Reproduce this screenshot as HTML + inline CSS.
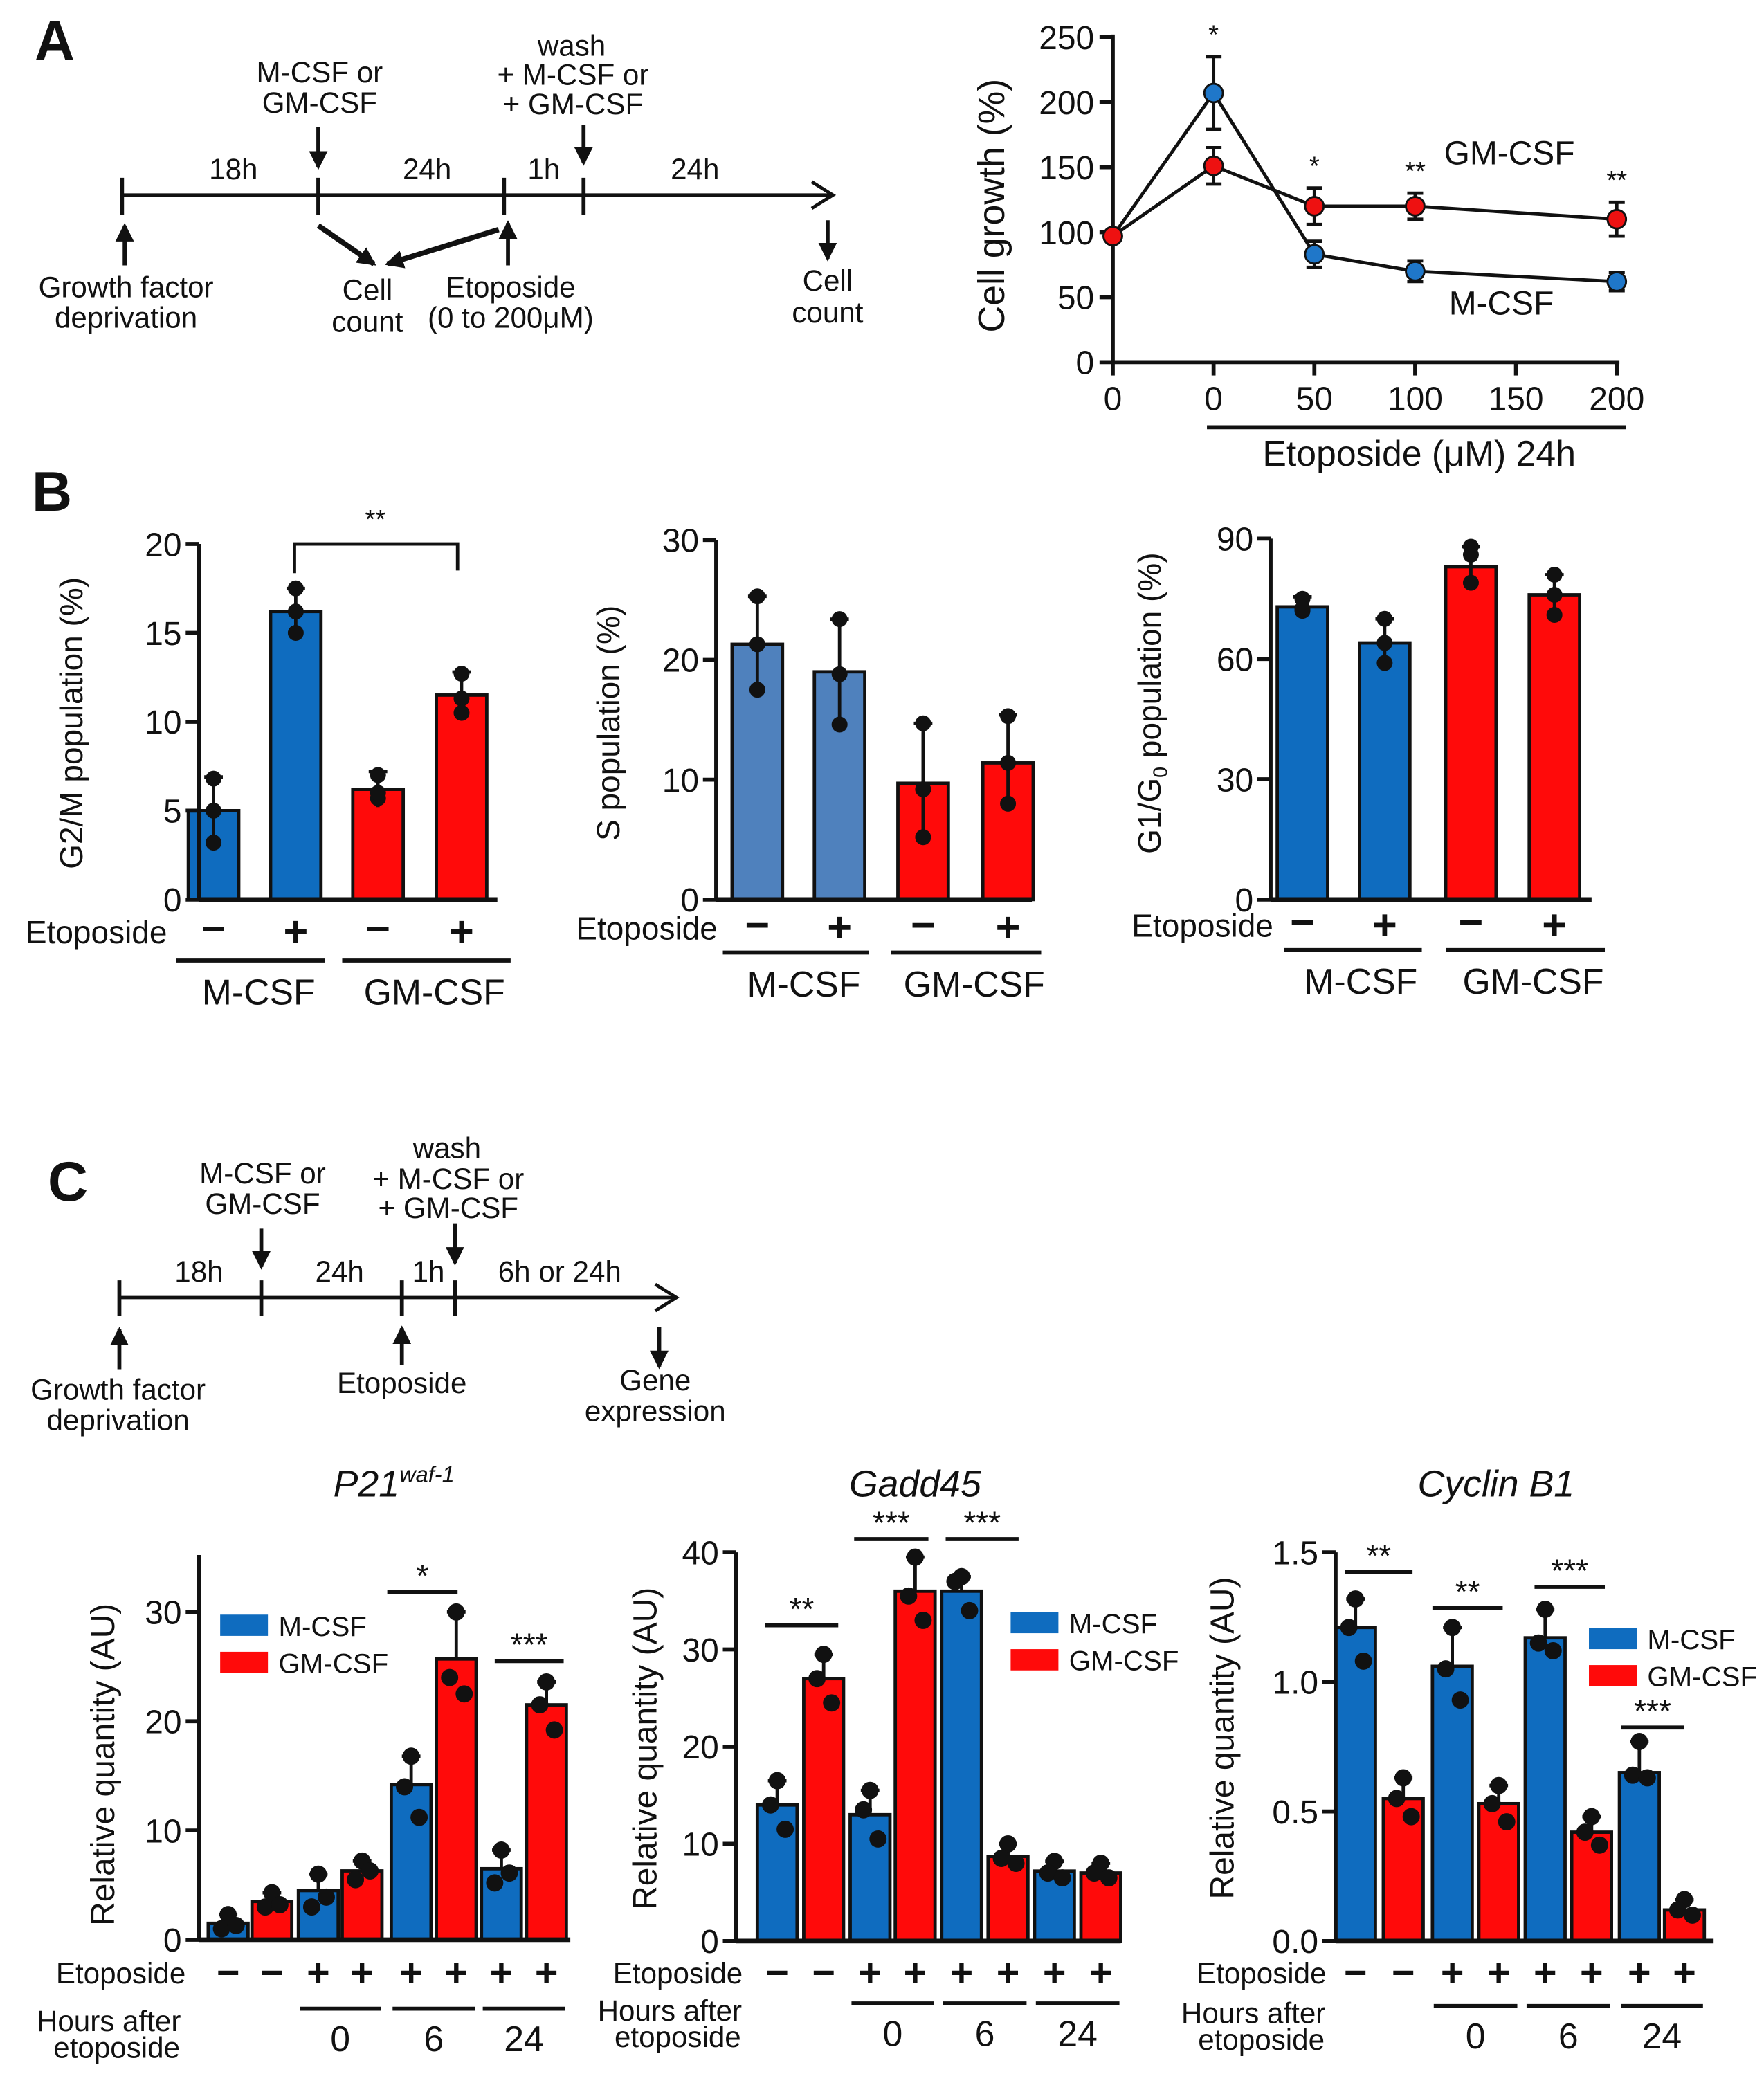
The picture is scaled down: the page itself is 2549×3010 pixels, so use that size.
<!DOCTYPE html>
<html><head><meta charset="utf-8">
<style>
html,body{margin:0;padding:0;background:#fff;}
svg{display:block;}
text{font-family:"Liberation Sans",Arial,sans-serif;fill:#111;}
</style></head>
<body>
<svg id="fig" width="2549" height="3010" viewBox="0 0 1330 1570" preserveAspectRatio="none" xmlns="http://www.w3.org/2000/svg">
<defs>
<marker id="ah" markerWidth="8" markerHeight="8" refX="6" refY="4" orient="auto" markerUnits="userSpaceOnUse"><path d="M0,0 L8,4 L0,8 z" fill="#111"/></marker>
<marker id="ah2" markerWidth="14" markerHeight="14" refX="12" refY="7" orient="auto" markerUnits="userSpaceOnUse"><path d="M0,0 L14,7 L0,14 z" fill="#111"/></marker>
</defs>

<!-- Panel letters -->
<text x="26" y="45" font-size="42" font-weight="bold">A</text>
<text x="24" y="385" font-size="42" font-weight="bold">B</text>
<text x="36" y="905" font-size="42" font-weight="bold">C</text>

<!-- Timeline A -->
<g font-size="22" text-anchor="middle" stroke-linecap="butt">
  <line x1="92" y1="147" x2="626" y2="147" stroke="#111" stroke-width="2.5"/>
  <path d="M612,137 L628,147 L612,157" fill="none" stroke="#111" stroke-width="2.5"/>
  <line x1="92" y1="134" x2="92" y2="162" stroke="#111" stroke-width="3"/>
  <line x1="240" y1="134" x2="240" y2="162" stroke="#111" stroke-width="3"/>
  <line x1="380" y1="134" x2="380" y2="162" stroke="#111" stroke-width="3"/>
  <line x1="440" y1="134" x2="440" y2="162" stroke="#111" stroke-width="3"/>
  <text x="176" y="135">18h</text><text x="322" y="135">24h</text><text x="410" y="135">1h</text><text x="524" y="135">24h</text>
  <text x="241" y="62">M-CSF or</text><text x="241" y="85">GM-CSF</text>
  <line x1="240" y1="96" x2="240" y2="126" stroke="#111" stroke-width="3" marker-end="url(#ah2)"/>
  <text x="431" y="42">wash</text><text x="432" y="64">+ M-CSF or</text><text x="432" y="86">+ GM-CSF</text>
  <line x1="440" y1="94" x2="440" y2="123" stroke="#111" stroke-width="3" marker-end="url(#ah2)"/>
  <line x1="94" y1="200" x2="94" y2="170" stroke="#111" stroke-width="3" marker-end="url(#ah2)"/>
  <line x1="383" y1="200" x2="383" y2="168" stroke="#111" stroke-width="3" marker-end="url(#ah2)"/>
  <line x1="624" y1="166" x2="624" y2="195" stroke="#111" stroke-width="3" marker-end="url(#ah2)"/>
  <line x1="240" y1="170" x2="282" y2="199" stroke="#111" stroke-width="4" marker-end="url(#ah2)"/>
  <line x1="376" y1="173" x2="292" y2="199" stroke="#111" stroke-width="4" marker-end="url(#ah2)"/>
  <text x="95" y="224">Growth factor</text><text x="95" y="247">deprivation</text>
  <text x="277" y="226">Cell</text><text x="277" y="250">count</text>
  <text x="385" y="224">Etoposide</text><text x="385" y="247">(0 to 200μM)</text>
  <text x="624" y="219">Cell</text><text x="624" y="243">count</text>
</g>

<!-- Timeline C -->
<g font-size="22" text-anchor="middle">
  <line x1="90" y1="978" x2="508" y2="978" stroke="#111" stroke-width="2.5"/>
  <path d="M494,968 L510,978 L494,988" fill="none" stroke="#111" stroke-width="2.5"/>
  <line x1="90" y1="965" x2="90" y2="992" stroke="#111" stroke-width="3"/>
  <line x1="197" y1="965" x2="197" y2="992" stroke="#111" stroke-width="3"/>
  <line x1="303" y1="965" x2="303" y2="992" stroke="#111" stroke-width="3"/>
  <line x1="343" y1="965" x2="343" y2="992" stroke="#111" stroke-width="3"/>
  <text x="150" y="966">18h</text><text x="256" y="966">24h</text><text x="323" y="966">1h</text><text x="422" y="966">6h or 24h</text>
  <text x="198" y="892">M-CSF or</text><text x="198" y="915">GM-CSF</text>
  <line x1="197" y1="926" x2="197" y2="955" stroke="#111" stroke-width="3" marker-end="url(#ah2)"/>
  <text x="337" y="873">wash</text><text x="338" y="896">+ M-CSF or</text><text x="338" y="918">+ GM-CSF</text>
  <line x1="343" y1="922" x2="343" y2="952" stroke="#111" stroke-width="3" marker-end="url(#ah2)"/>
  <line x1="90" y1="1032" x2="90" y2="1002" stroke="#111" stroke-width="3" marker-end="url(#ah2)"/>
  <line x1="303" y1="1029" x2="303" y2="1001" stroke="#111" stroke-width="3" marker-end="url(#ah2)"/>
  <line x1="497" y1="1000" x2="497" y2="1030" stroke="#111" stroke-width="3" marker-end="url(#ah2)"/>
  <text x="89" y="1055">Growth factor</text><text x="89" y="1078">deprivation</text>
  <text x="303" y="1050">Etoposide</text>
  <text x="494" y="1048">Gene</text><text x="494" y="1071">expression</text>
</g>

<g id="charts"></g>
</svg>

<script>
// ---------- Line chart data (Panel A) ----------
const lineXLabels = ["0","0","50","100","150","200"];
const lineYTicks = [0,50,100,150,200,250];
const lineXSlots = [0,1,2,3,5];           // category slot for each point
const mcsfGrowth = [97,207,83,70,62];
const mcsfErr = [0,28,10,8,7];
const gmcsfGrowth = [97,151,120,120,110];
const gmcsfErr = [0,14,14,10,13];
const lineStars = ["","*","*","**","","**"];

// ---------- Panel B data ----------
const bCats = ["M-CSF -","M-CSF +","GM-CSF -","GM-CSF +"];
const g2mMeans = [5.0,16.2,6.2,11.5];
const g2mErr = [1.9,1.3,1.0,1.3];
const g2mPts = [[6.8,5.0,3.2],[17.5,16.2,15.0],[7.0,5.7,6.0],[12.7,11.3,10.5]];
const g2mTicks = [0,5,10,15,20];
const sMeans = [21.3,19.0,9.7,11.4];
const sErr = [4.0,4.4,5.0,4.0];
const sPts = [[25.3,21.3,17.5],[23.4,18.8,14.6],[14.7,9.2,5.2],[15.3,11.4,8.0]];
const sTicks = [0,10,20,30];
const g1Means = [73,64,83,76];
const g1Err = [2.5,6.0,5.0,5.0];
const g1Pts = [[75,72,72.5],[70,64,59],[88,86,79],[81,76,71]];
const g1Ticks = [0,30,60,90];

// ---------- Panel C data ----------
const cCats = ["M -","GM -","M +0","GM +0","M +6","GM +6","M +24","GM +24"];
const p21Means = [1.5,3.5,4.5,6.3,14.2,25.7,6.5,21.5];
const p21Pts = [[2.3,1.0,1.3],[4.3,3.0,3.2],[6.0,3.0,3.9],[7.2,5.5,6.3],[16.8,14.0,11.2],[30.0,24.0,22.5],[8.2,5.2,6.1],[23.6,21.5,19.2]];
const p21Ticks = [0,10,20,30];
const gaddMeans = [14,27,13,36,36,8.7,7.2,7];
const gaddPts = [[16.5,14,11.5],[29.5,27,24.5],[15.5,13.5,10.5],[39.5,35.5,33],[37.5,37,34],[10,8.5,8],[8.2,7,6.5],[8,7,6.5]];
const gaddTicks = [0,10,20,30,40];
const cycMeans = [1.21,0.55,1.06,0.53,1.17,0.42,0.65,0.12];
const cycPts = [[1.32,1.21,1.08],[0.63,0.55,0.48],[1.21,1.05,0.93],[0.6,0.53,0.46],[1.28,1.15,1.12],[0.48,0.42,0.37],[0.77,0.64,0.63],[0.16,0.12,0.1]];
const cycTicks = [0,0.5,1.0,1.5];
const cycTickLabels = ["0.0","0.5","1.0","1.5"];
const etoSigns = ["−","−","+","+","+","+","+","+"];

const NS = "http://www.w3.org/2000/svg";
const root = document.getElementById("charts");
function el(tag, attrs, parent, txt){
  const e = document.createElementNS(NS, tag);
  for (const k in attrs) e.setAttribute(k, attrs[k]);
  if (txt !== undefined) e.textContent = txt;
  (parent||root).appendChild(e);
  return e;
}

// ---------- Line chart ----------
(function(){
  const g = el("g", {});
  
  
  const x0 = 839, slotW = 76, yBase = 273, yTop = 28, maxV = 250;
  const sx = i => x0 + i*slotW;
  const sy = v => yBase - (v/maxV)*(yBase-yTop);
  el("line",{x1:x0,y1:yTop-2,x2:x0,y2:yBase,stroke:"#111","stroke-width":3},g);
  el("line",{x1:x0,y1:yBase,x2:sx(5)+2,y2:yBase,stroke:"#111","stroke-width":3},g);
  lineYTicks.forEach(t=>{
    el("line",{x1:x0-10,y1:sy(t),x2:x0,y2:sy(t),stroke:"#111","stroke-width":3},g);
    const tl = el("text",{x:x0-14,y:sy(t)+9,"font-size":25,"text-anchor":"end"},g,String(t));
    
    
  });
  lineXLabels.forEach((l,i)=>{
    el("line",{x1:sx(i),y1:yBase,x2:sx(i),y2:yBase+10,stroke:"#111","stroke-width":3},g);
    const tl = el("text",{x:sx(i),y:yBase+36,"font-size":25,"text-anchor":"middle"},g,l);
    
    
    if (lineStars[i]) {
      const vals = [];
      const j = lineXSlots.indexOf(i);
      if (j>=0) vals.push(mcsfGrowth[j]+mcsfErr[j], gmcsfGrowth[j]+gmcsfErr[j]);
      const st = el("text",{x:sx(i),y:sy(Math.max(...vals))-10,"font-size":20,"text-anchor":"middle"},g,lineStars[i]);
      
      
    }
  });
  el("line",{x1:910,y1:322,x2:1226,y2:322,stroke:"#111","stroke-width":3},g);
  const xt = el("text",{x:1070,y:351,"font-size":27,"text-anchor":"middle"},g,"Etoposide (μM)  24h");
  
  
  const yt = el("text",{x:0,y:0,"font-size":28,"text-anchor":"middle",transform:"translate(757,155) rotate(-90)"},g,"Cell growth (%)");
  
  
  function series(vals, errs, color, name){
    const pts = vals.map((v,i)=>sx(lineXSlots[i])+","+sy(v)).join(" ");
    const pl = el("polyline",{points:pts,fill:"none",stroke:"#111","stroke-width":2.5},g);
    
    
    vals.forEach((v,i)=>{
      const x = sx(lineXSlots[i]);
      if (errs[i]>0){
        el("line",{x1:x,y1:sy(v+errs[i]),x2:x,y2:sy(v-errs[i]),stroke:"#111","stroke-width":2.5},g);
        el("line",{x1:x-6,y1:sy(v+errs[i]),x2:x+6,y2:sy(v+errs[i]),stroke:"#111","stroke-width":2.5},g);
        el("line",{x1:x-6,y1:sy(v-errs[i]),x2:x+6,y2:sy(v-errs[i]),stroke:"#111","stroke-width":2.5},g);
      }
      const c = el("circle",{cx:x,cy:sy(v),r:7,fill:color,stroke:"#111","stroke-width":1.5},g);
      
      
    });
  }
  series(mcsfGrowth, mcsfErr, "#1f77c9", "m-csf");
  series(gmcsfGrowth, gmcsfErr, "#ee1111", "gm-csf");
  const l1 = el("text",{x:1138,y:124,"font-size":25,"text-anchor":"middle"},g,"GM-CSF");
  
  
  const l2 = el("text",{x:1132,y:237,"font-size":25,"text-anchor":"middle"},g,"M-CSF");
  
  
})();

// ---------- Bar chart helper ----------
function barChart(c){
  const g = el("g", {});
  
  
  const sy = v => c.yBase - (v/c.maxV)*(c.yBase-c.yTop);
  c.means.forEach((m,i)=>{
    const x = c.xs[i], w = c.bw;
    const r = el("rect",{x:x-w/2,y:sy(m),width:w,height:c.yBase-sy(m),fill:c.colors[i],stroke:"#111","stroke-width":2.5},g);
    
    
    const pts = c.pts[i];
    const top = c.errs ? m + c.errs[i] : Math.max(...pts);
    el("line",{x1:x,y1:sy(m),x2:x,y2:sy(top),stroke:"#111","stroke-width":2.5},g);
    el("line",{x1:x-7,y1:sy(top),x2:x+7,y2:sy(top),stroke:"#111","stroke-width":2.5},g);
    if (c.errs){ el("line",{x1:x,y1:sy(m),x2:x,y2:sy(m-c.errs[i]),stroke:"#111","stroke-width":2.5},g); }
    pts.forEach((p,k)=>{
      const off = c.jitter ? [0,-5,6][k] : 0;
      const d = el("circle",{cx:x+off,cy:sy(p),r:c.dotR,fill:"#111"},g);
      
      
    });
  });
  el("line",{x1:c.x0,y1:c.yTop-(c.axisExtra||0),x2:c.x0,y2:c.yBase,stroke:"#111","stroke-width":3},g);
  el("line",{x1:c.x0,y1:c.yBase,x2:c.xEnd,y2:c.yBase,stroke:"#111","stroke-width":3.5},g);
  c.ticks.forEach((t,i)=>{
    el("line",{x1:c.x0-10,y1:sy(t),x2:c.x0,y2:sy(t),stroke:"#111","stroke-width":3},g);
    const tl = el("text",{x:c.x0-13,y:sy(t)+9,"font-size":25,"text-anchor":"end"},g,c.tickLabels?c.tickLabels[i]:String(t));
    
    
  });
  const yt = el("text",{x:0,y:0,"font-size":c.ytSize||24,"text-anchor":"middle",transform:"translate("+c.ytX+","+c.ytY+") rotate(-90)"},g,c.yTitle);
  
  
  return {g, sy};
}

// ---------- Panel B ----------
const blue = "#0f6cbf", red = "#ff0a0a", lblue = "#4f81bd";
function bPanel(o){
  const r = barChart(o);
  const g = r.g;
  const et = el("text",{x:o.etoX,y:o.etoY,"font-size":24,"text-anchor":"end"},g,"Etoposide");
  
  
  ["−","+","−","+"].forEach((s,i)=>{
    el("text",{x:o.xs[i],y:o.etoY+(s==="+"?2:0),"font-size":32,"font-weight":"bold","text-anchor":"middle"},g,s);
  });
  el("line",{x1:o.g1[0],y1:o.lineY,x2:o.g1[1],y2:o.lineY,stroke:"#111","stroke-width":3},g);
  el("line",{x1:o.g2[0],y1:o.lineY,x2:o.g2[1],y2:o.lineY,stroke:"#111","stroke-width":3},g);
  const a = el("text",{x:(o.g1[0]+o.g1[1])/2+6,y:o.lineY+33,"font-size":27,"text-anchor":"middle"},g,"M-CSF");
  
  
  const b = el("text",{x:(o.g2[0]+o.g2[1])/2+6,y:o.lineY+33,"font-size":27,"text-anchor":"middle"},g,"GM-CSF");
  
  
  return r;
}
const b1 = bPanel({name:"g2m-chart",means:g2mMeans,errs:g2mErr,pts:g2mPts,ticks:g2mTicks,maxV:20,yBase:678,yTop:410,x0:150,xEnd:375,
  xs:[161,223,285,348],bw:38,colors:[blue,blue,red,red],dotR:6,yTitle:"G2/M population (%)",ytX:62,ytY:545,
  etoX:126,etoY:711,lineY:724,g1:[133,245],g2:[258,385]});
el("path",{d:"M222,432 L222,410 L345,410 L345,430",fill:"none",stroke:"#111","stroke-width":2.5},b1.g);
el("text",{x:283,y:398,"font-size":20,"text-anchor":"middle"},b1.g,"**");
bPanel({name:"s-phase-chart",means:sMeans,errs:sErr,pts:sPts,ticks:sTicks,maxV:30,yBase:678,yTop:407,x0:540,xEnd:778,
  xs:[571,633,696,760],bw:38,colors:[lblue,lblue,red,red],dotR:6,yTitle:"S population (%)",ytX:467,ytY:545,
  etoX:541,etoY:708,lineY:718,g1:[545,655],g2:[672,785]});
const b3 = bPanel({name:"g1-g0-chart",means:g1Means,errs:g1Err,pts:g1Pts,ticks:g1Ticks,maxV:90,yBase:678,yTop:406,x0:958,xEnd:1200,
  xs:[982,1044,1109,1172],bw:38,colors:[blue,blue,red,red],dotR:6,yTitle:"",ytX:872,ytY:530,
  etoX:960,etoY:706,lineY:716,g1:[968,1072],g2:[1090,1210]});
(function(){
  const t = el("text",{x:0,y:0,"font-size":24,"text-anchor":"middle",transform:"translate(875,530) rotate(-90)"},b3.g);
  
  
  el("tspan",{},t,"G1/G");
  el("tspan",{"font-size":15,dy:5},t,"0");
  el("tspan",{dy:-5},t," population (%)");
})();

// ---------- Panel C ----------
function cPanel(o){
  const r = barChart(o);
  const g = r.g;
  const title = el("text",{x:o.titleX,y:1128,"font-size":28,"font-style":"italic","text-anchor":"middle"},g);
  
  
  if (o.sup){ el("tspan",{},title,o.title); el("tspan",{"font-size":17,dy:-11},title,o.sup); }
  else title.textContent = o.title;
  // legend
  const lg = el("g",{},g);
  
  
  el("rect",{x:o.legX,y:o.legY,width:36,height:16,fill:blue},lg);
  el("text",{x:o.legX+44,y:o.legY+16,"font-size":21},lg,"M-CSF");
  el("rect",{x:o.legX,y:o.legY+28,width:36,height:16,fill:red},lg);
  el("text",{x:o.legX+44,y:o.legY+44,"font-size":21},lg,"GM-CSF");
  // significance
  o.sig.forEach(s=>{
    el("line",{x1:s[0],y1:s[2],x2:s[1],y2:s[2],stroke:"#111","stroke-width":3},g);
    const t = el("text",{x:(s[0]+s[1])/2,y:s[2]-4,"font-size":24,"text-anchor":"middle"},g,s[3]);
    
    
  });
  // etoposide row
  const et = el("text",{x:o.etoX,y:o.etoY+8,"font-size":22,"text-anchor":"end"},g,"Etoposide");
  
  
  etoSigns.forEach((s,i)=>{
    el("text",{x:o.xs[i],y:o.etoY+10,"font-size":30,"font-weight":"bold","text-anchor":"middle"},g,s);
  });
  const h1 = el("text",{x:o.hoursX,y:o.hoursY,"font-size":22,"text-anchor":"middle"},g,"Hours after");
  
  
  el("text",{x:o.hoursX+6,y:o.hoursY+20,"font-size":22,"text-anchor":"middle"},g,"etoposide");
  ["0","6","24"].forEach((l,k)=>{
    const a = o.xs[2+2*k]-14, b = o.xs[3+2*k]+14;
    el("line",{x1:a,y1:o.hLineY,x2:b,y2:o.hLineY,stroke:"#111","stroke-width":3},g);
    el("text",{x:(a+b)/2,y:o.hLineY+32,"font-size":27,"text-anchor":"middle"},g,l);
  });
}
const cColors = [blue,red,blue,red,blue,red,blue,red];
cPanel({name:"p21-chart",means:p21Means,pts:p21Pts,ticks:p21Ticks,maxV:30,yBase:1462,yTop:1215,axisExtra:43,x0:150,xEnd:430,
  xs:[172,205,240,273,310,344,378,412],bw:30,colors:cColors,dotR:6.5,jitter:true,yTitle:"Relative quantity (AU)",ytX:86,ytY:1330,ytSize:25,
  title:"P21",sup:"waf-1",titleX:297,legX:166,legY:1217,
  sig:[[292,345,1200,"*"],[373,425,1252,"***"]],
  etoX:140,etoY:1487,hoursX:82,hoursY:1531,hLineY:1514});
cPanel({name:"gadd45-chart",means:gaddMeans,pts:gaddPts,ticks:gaddTicks,maxV:40,yBase:1463,yTop:1170,x0:555,xEnd:845,
  xs:[586,621,656,690,725,760,795,830],bw:30,colors:cColors,dotR:6.5,jitter:true,yTitle:"Relative quantity (AU)",ytX:495,ytY:1318,ytSize:25,
  title:"Gadd45",titleX:690,legX:762,legY:1215,
  sig:[[577,632,1225,"**"],[644,700,1160,"***"],[713,768,1160,"***"]],
  etoX:560,etoY:1487,hoursX:505,hoursY:1523,hLineY:1510});
cPanel({name:"cyclin-b1-chart",means:cycMeans,pts:cycPts,ticks:cycTicks,tickLabels:cycTickLabels,maxV:1.5,yBase:1463,yTop:1170,x0:1007,xEnd:1292,
  xs:[1022,1058,1095,1130,1165,1200,1236,1270],bw:30,colors:cColors,dotR:6.5,jitter:true,yTitle:"Relative quantity (AU)",ytX:930,ytY:1310,ytSize:25,
  title:"Cyclin B1",titleX:1128,legX:1198,legY:1227,
  sig:[[1014,1065,1185,"**"],[1080,1133,1212,"**"],[1157,1210,1196,"***"],[1222,1270,1302,"***"]],
  etoX:1000,etoY:1487,hoursX:945,hoursY:1525,hLineY:1512});
</script>
</body></html>
